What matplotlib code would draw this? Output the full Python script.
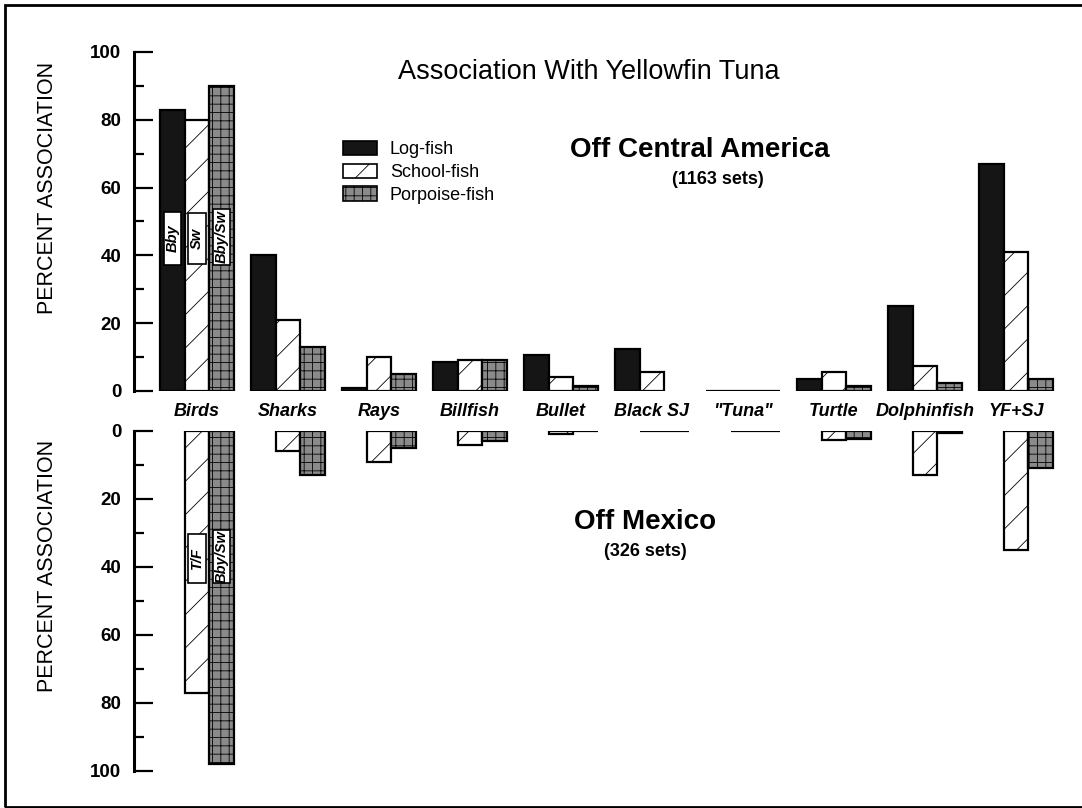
import numpy as np
import matplotlib
matplotlib.use("Agg")
import matplotlib.pyplot as plt
from matplotlib.patches import Rectangle

plt.rcParams['font.family'] = ['Liberation Sans', 'DejaVu Sans']
plt.rcParams['hatch.linewidth'] = 0.6

categories = ["Birds", "Sharks", "Rays", "Billfish", "Bullet", "Black SJ",
              "\"Tuna\"", "Turtle", "Dolphinfish", "YF+SJ"]
series = ["Log-fish", "School-fish", "Porpoise-fish"]

# Off Central America (1163 sets)
ca_log = [83, 40, 1, 8.5, 10.5, 12.5, 0, 3.5, 25, 67]
ca_school = [80, 21, 10, 9, 4, 5.5, 0, 5.5, 7.5, 41]
ca_porpoise = [90, 13, 5, 9, 1.5, np.nan, 0, 1.5, 2.5, 3.5]

# Off Mexico (326 sets) - no log-fish sets
mx_school = [77, 6, 9, 4, 1, 0, 0, 2.7, 13, 35]
mx_porpoise = [98, 13, 5, 3, 0, 0, 0, 2.5, 0.7, 11]

yticks = [0, 20, 40, 60, 80, 100]

top_bar_labels = ["Bby", "Sw", "Bby/Sw"]
bot_bar_labels = ["T/F", "Bby/Sw"]

styles = {
    "Log-fish": dict(facecolor="#151515", hatch=None),
    "School-fish": dict(facecolor="white", hatch="/"),
    "Porpoise-fish": dict(facecolor="#8a8a8a", hatch="++"),
}

W = 0.269
offsets = {"Log-fish": -W, "School-fish": 0.0, "Porpoise-fish": W}

fig = plt.figure(figsize=(10.82, 8.08), dpi=100)
ax1 = fig.add_axes([0.1238, 0.5161, 0.8697, 0.4196])
ax2 = fig.add_axes([0.1238, 0.0458, 0.8697, 0.4208])

x = np.arange(len(categories))


def draw(ax, name, vals):
    vals = np.asarray(vals, dtype=float)
    m = ~np.isnan(vals)
    st = styles[name]
    return ax.bar(x[m] + offsets[name], vals[m], width=W, align="center",
                  facecolor=st["facecolor"], hatch=st["hatch"],
                  edgecolor="black", linewidth=1.6, label=name)


draw(ax1, "Log-fish", ca_log)
draw(ax1, "School-fish", ca_school)
draw(ax1, "Porpoise-fish", ca_porpoise)
draw(ax2, "School-fish", mx_school)
draw(ax2, "Porpoise-fish", mx_porpoise)

for ax in (ax1, ax2):
    ax.set_xlim(-0.692, 9.648)
    ax.set_ylim(0, 100)
    for s in ("top", "right", "bottom"):
        ax.spines[s].set_visible(False)
    ax.spines["left"].set_linewidth(2.2)
    ax.set_yticks(yticks)
    ax.set_yticks(np.arange(10, 100, 20), minor=True)
    ax.tick_params(axis="y", which="major", direction="in", length=14,
                   width=1.6, pad=9, labelsize=13.5)
    ax.tick_params(axis="y", which="minor", direction="in", length=7,
                   width=1.6)
    for lab in ax.get_yticklabels():
        lab.set_fontweight("bold")
    ax.set_facecolor("none")

ax2.invert_yaxis()

ax1.set_xticks(x)
ax1.set_xticklabels(categories, fontstyle="italic", fontweight="bold",
                    fontsize=13)
ax1.tick_params(axis="x", length=0, pad=9)
ax2.set_xticks([])

# label boxes inside Birds bars
def label_box(ax, xc, yc, text, h):
    ax.add_patch(Rectangle((xc - 0.095, yc - h / 2), 0.19, h,
                           facecolor="white", edgecolor="black",
                           linewidth=1.2, zorder=5))
    ax.text(xc, yc, text, rotation=90, ha="center", va="center",
            fontstyle="italic", fontweight="bold", fontsize=10.5, zorder=6)

label_box(ax1, x[0] + offsets["Log-fish"], 45, top_bar_labels[0], 15.5)
label_box(ax1, x[0] + offsets["School-fish"], 45, top_bar_labels[1], 15)
label_box(ax1, x[0] + offsets["Porpoise-fish"], 45.5, top_bar_labels[2], 16.5)
label_box(ax2, x[0] + offsets["School-fish"], 37.5, bot_bar_labels[0], 14.5)
label_box(ax2, x[0] + offsets["Porpoise-fish"], 37, bot_bar_labels[1], 15.5)

# legend
leg = ax1.legend(loc="upper left", bbox_to_anchor=(0.2125, 0.765),
                 frameon=False, fontsize=13, handlelength=1.9,
                 handleheight=0.85, handletextpad=0.7, labelspacing=0.3,
                 borderpad=0)
for h in leg.legend_handles:
    h.set_linewidth(1.2)

fig.text(589 / 1082, 1 - 72 / 808, "Association With Yellowfin Tuna",
         ha="center", va="center", fontsize=19.5)
fig.text(700 / 1082, 1 - 150 / 808, "Off Central America", ha="center",
         va="center", fontsize=20, fontweight="bold")
fig.text(718 / 1082, 1 - 179 / 808, "(1163 sets)", ha="center",
         va="center", fontsize=13, fontweight="bold")
fig.text(645 / 1082, 1 - 522 / 808, "Off Mexico", ha="center",
         va="center", fontsize=20, fontweight="bold")
fig.text(645 / 1082, 1 - 551 / 808, "(326 sets)", ha="center",
         va="center", fontsize=13, fontweight="bold")

fig.text(48 / 1082, 1 - 188 / 808, "PERCENT ASSOCIATION", rotation=90,
         ha="center", va="center", fontsize=15.5)
fig.text(48 / 1082, 1 - 566 / 808, "PERCENT ASSOCIATION", rotation=90,
         ha="center", va="center", fontsize=15.5)

fig.patches.append(Rectangle((5 / 1082, 1.5 / 808), 1085 / 1082, 802 / 808,
                             transform=fig.transFigure, fill=False,
                             edgecolor="black", linewidth=2))

fig.savefig("out.png", dpi=100)
